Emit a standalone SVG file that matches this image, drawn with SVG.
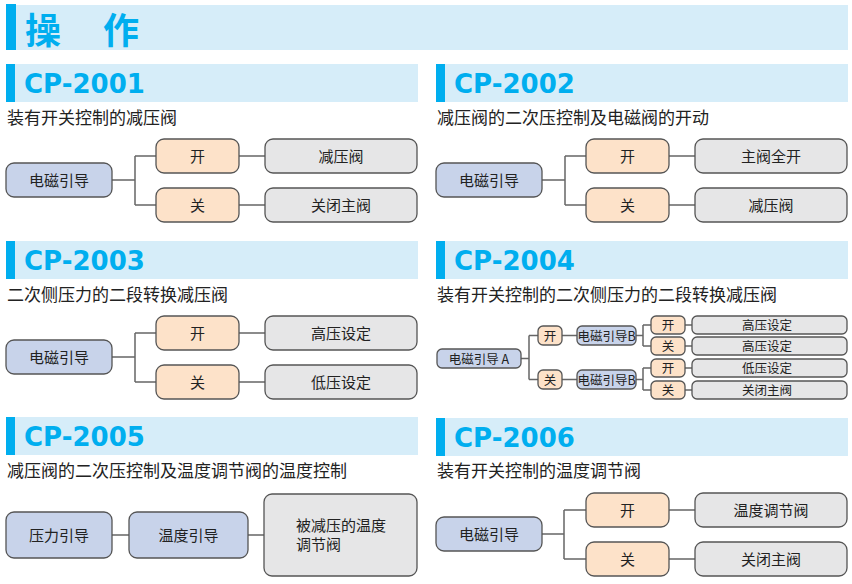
<svg xmlns="http://www.w3.org/2000/svg" width="852" height="584" viewBox="0 0 852 584">
<style>
.bg{fill:#d6edf9}
.acc{fill:#00aeef}
.title{font-family:"Noto Sans CJK SC",sans-serif;font-weight:bold;font-size:36px;fill:#00aeef}
.cp{font-family:"DejaVu Sans",sans-serif;font-weight:bold;font-size:26px;fill:#00aeef}
.sub{font-family:"Noto Sans CJK SC",sans-serif;font-size:17px;fill:#222}
.n{stroke:#555;stroke-width:1.3}
.b{fill:#c8d3ea}
.o{fill:#fde2c9}
.g{fill:#e6e6e7}
.t{font-family:"Noto Sans CJK SC",sans-serif;font-size:15px;fill:#222;text-anchor:middle;dominant-baseline:central}
.ts{font-family:"Noto Sans CJK SC",sans-serif;font-size:12.5px;fill:#222;text-anchor:middle;dominant-baseline:central}
.tl{font-family:"Noto Sans CJK SC",sans-serif;font-size:15px;fill:#222}
.c{fill:none;stroke:#666;stroke-width:1.5}
</style>

<g id="header">
<rect class="bg" x="16" y="5" width="832" height="45"/>
<rect class="acc" x="6" y="4" width="10" height="46"/>
<text class="title" x="25" y="44">操<tspan x="103">作</tspan></text>
</g>

<g id="section-headers">
<rect class="bg" x="15" y="64" width="403" height="38"/><rect class="acc" x="6" y="64" width="9" height="38"/>
<text class="cp" x="24" y="93">CP-2001</text>
<rect class="bg" x="445" y="64" width="403" height="38"/><rect class="acc" x="436" y="64" width="9" height="38"/>
<text class="cp" x="454" y="93">CP-2002</text>
<rect class="bg" x="15" y="241" width="403" height="38"/><rect class="acc" x="6" y="241" width="9" height="38"/>
<text class="cp" x="24" y="270">CP-2003</text>
<rect class="bg" x="445" y="241" width="403" height="38"/><rect class="acc" x="436" y="241" width="9" height="38"/>
<text class="cp" x="454" y="270">CP-2004</text>
<rect class="bg" x="15" y="417" width="403" height="38"/><rect class="acc" x="6" y="417" width="9" height="38"/>
<text class="cp" x="24" y="446">CP-2005</text>
<rect class="bg" x="445" y="418" width="403" height="38"/><rect class="acc" x="436" y="418" width="9" height="38"/>
<text class="cp" x="454" y="447">CP-2006</text>
<text class="sub" x="7" y="124">装有开关控制的减压阀</text>
<text class="sub" x="437" y="124">减压阀的二次压控制及电磁阀的开动</text>
<text class="sub" x="7" y="301">二次侧压力的二段转换减压阀</text>
<text class="sub" x="437" y="301">装有开关控制的二次侧压力的二段转换减压阀</text>
<text class="sub" x="7" y="477">减压阀的二次压控制及温度调节阀的温度控制</text>
<text class="sub" x="437" y="477">装有开关控制的温度调节阀</text>
</g>

<g id="connectors">
<path class="c" d="M112 180H135M135 156V205M135 156H156M135 205H156M239 156H265M239 205H265"/>
<path class="c" d="M542 180H565M565 156V205M565 156H586M565 205H586M669 156H695M669 205H695"/>
<path class="c" d="M112 357H135M135 333V382M135 333H156M135 382H156M239 333H265M239 382H265"/>
<path class="c" d="M521 358.5H529M529 335.5V379.5M529 335.5H538M529 379.5H538M562 335.5H577M562 379.5H577M636 335.5H643M643 325V346M643 325H651M643 346H651M636 379.5H643M643 368V390M643 368H651M643 390H651M685 325H692M685 346H692M685 368H692M685 390H692"/>
<path class="c" d="M112 535H129M248 535H264"/>
<path class="c" d="M542 534H564M564 510V559M564 510H586M564 559H586M669 510H695M669 559H695"/>
</g>

<g id="cp2001">
<g id="n1-main"><rect class="n b" x="6" y="163" width="106" height="34" rx="8"/><text class="t" x="59" y="179">电磁引导</text></g>
<g id="n1-on"><rect class="n o" x="156" y="139" width="83" height="34" rx="8"/><text class="t" x="197.5" y="155">开</text></g>
<g id="n1-off"><rect class="n o" x="156" y="188" width="83" height="34" rx="8"/><text class="t" x="197.5" y="204">关</text></g>
<g id="n1-r1"><rect class="n g" x="265" y="139" width="152" height="34" rx="8"/><text class="t" x="341" y="155">减压阀</text></g>
<g id="n1-r2"><rect class="n g" x="265" y="188" width="152" height="34" rx="8"/><text class="t" x="341" y="204">关闭主阀</text></g>
</g>

<g id="cp2002">
<g id="n2-main"><rect class="n b" x="436" y="163" width="106" height="34" rx="8"/><text class="t" x="489" y="179">电磁引导</text></g>
<g id="n2-on"><rect class="n o" x="586" y="139" width="83" height="34" rx="8"/><text class="t" x="627.5" y="155">开</text></g>
<g id="n2-off"><rect class="n o" x="586" y="188" width="83" height="34" rx="8"/><text class="t" x="627.5" y="204">关</text></g>
<g id="n2-r1"><rect class="n g" x="695" y="139" width="152" height="34" rx="8"/><text class="t" x="771" y="155">主阀全开</text></g>
<g id="n2-r2"><rect class="n g" x="695" y="188" width="152" height="34" rx="8"/><text class="t" x="771" y="204">减压阀</text></g>
</g>

<g id="cp2003">
<g id="n3-main"><rect class="n b" x="6" y="340" width="106" height="34" rx="8"/><text class="t" x="59" y="356">电磁引导</text></g>
<g id="n3-on"><rect class="n o" x="156" y="316" width="83" height="34" rx="8"/><text class="t" x="197.5" y="332">开</text></g>
<g id="n3-off"><rect class="n o" x="156" y="365" width="83" height="34" rx="8"/><text class="t" x="197.5" y="381">关</text></g>
<g id="n3-r1"><rect class="n g" x="265" y="316" width="152" height="34" rx="8"/><text class="t" x="341" y="332">高压设定</text></g>
<g id="n3-r2"><rect class="n g" x="265" y="365" width="152" height="34" rx="8"/><text class="t" x="341" y="381">低压设定</text></g>
</g>

<g id="cp2004">
<g id="n4-a"><rect class="n b" x="437" y="349" width="84" height="19" rx="5"/><text class="ts" x="479" y="358">电磁引导 A</text></g>
<g id="n4-on"><rect class="n o" x="538" y="326" width="24" height="19" rx="5"/><text class="ts" x="550" y="335">开</text></g>
<g id="n4-off"><rect class="n o" x="538" y="370" width="24" height="19" rx="5"/><text class="ts" x="550" y="379">关</text></g>
<g id="n4-b1"><rect class="n b" x="577" y="326" width="59" height="19" rx="5"/><text class="ts" x="606.5" y="335" font-size="11.5">电磁引导B</text></g>
<g id="n4-b2"><rect class="n b" x="577" y="370" width="59" height="19" rx="5"/><text class="ts" x="606.5" y="379" font-size="11.5">电磁引导B</text></g>
<g id="n4-s1"><rect class="n o" x="651" y="316" width="34" height="18" rx="5"/><text class="ts" x="668" y="324.5">开</text></g>
<g id="n4-s2"><rect class="n o" x="651" y="337" width="34" height="18" rx="5"/><text class="ts" x="668" y="345.5">关</text></g>
<g id="n4-s3"><rect class="n o" x="651" y="359" width="34" height="18" rx="5"/><text class="ts" x="668" y="367.5">开</text></g>
<g id="n4-s4"><rect class="n o" x="651" y="381" width="34" height="18" rx="5"/><text class="ts" x="668" y="389.5">关</text></g>
<g id="n4-r1"><rect class="n g" x="692" y="316" width="155" height="18" rx="5"/><text class="ts" x="767" y="324.5">高压设定</text></g>
<g id="n4-r2"><rect class="n g" x="692" y="337" width="155" height="18" rx="5"/><text class="ts" x="767" y="345.5">高压设定</text></g>
<g id="n4-r3"><rect class="n g" x="692" y="359" width="155" height="18" rx="5"/><text class="ts" x="767" y="367.5">低压设定</text></g>
<g id="n4-r4"><rect class="n g" x="692" y="381" width="155" height="18" rx="5"/><text class="ts" x="767" y="389.5">关闭主阀</text></g>
</g>

<g id="cp2005">
<g id="n5-p"><rect class="n b" x="6" y="512" width="106" height="46" rx="8"/><text class="t" x="59" y="534">压力引导</text></g>
<g id="n5-t"><rect class="n b" x="129" y="512" width="119" height="46" rx="8"/><text class="t" x="188.5" y="534">温度引导</text></g>
<g id="n5-v"><rect class="n g" x="264" y="494" width="153" height="82" rx="8"/><text class="tl" x="296" y="531">被减压的温度</text><text class="tl" x="296" y="550">调节阀</text></g>
</g>

<g id="cp2006">
<g id="n6-main"><rect class="n b" x="436" y="517" width="106" height="34" rx="8"/><text class="t" x="489" y="533">电磁引导</text></g>
<g id="n6-on"><rect class="n o" x="586" y="493" width="83" height="34" rx="8"/><text class="t" x="627.5" y="509">开</text></g>
<g id="n6-off"><rect class="n o" x="586" y="542" width="83" height="34" rx="8"/><text class="t" x="627.5" y="558">关</text></g>
<g id="n6-r1"><rect class="n g" x="695" y="493" width="152" height="34" rx="8"/><text class="t" x="771" y="509">温度调节阀</text></g>
<g id="n6-r2"><rect class="n g" x="695" y="542" width="152" height="34" rx="8"/><text class="t" x="771" y="558">关闭主阀</text></g>
</g>
</svg>
